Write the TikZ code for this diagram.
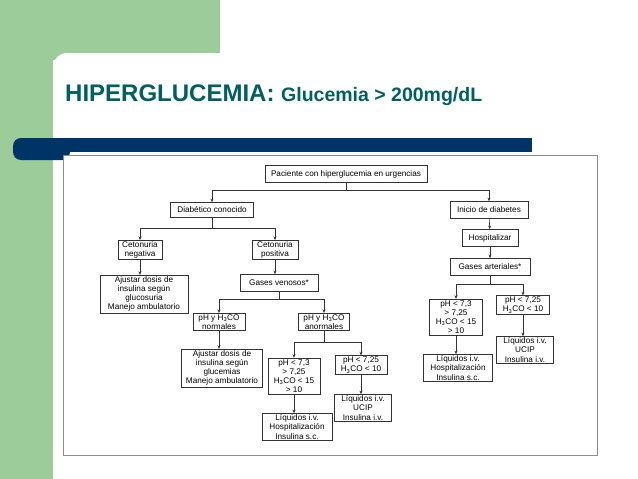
\documentclass[tikz,border=0pt]{standalone}
\usepackage{fontspec}
\setmainfont{Liberation Sans}
\usetikzlibrary{arrows.meta}
\definecolor{grn}{RGB}{155,204,153}
\definecolor{navy}{RGB}{0,51,102}
\definecolor{teal}{RGB}{0,96,96}
\tikzset{
 bx/.style={draw=black!80, line width=0.6pt, align=center, inner sep=1.2pt, font=\fontsize{8.2}{9.2}\selectfont, minimum height=17},
 arr/.style={-{Stealth[length=3.6pt,width=3pt]}, line width=0.6pt, black!80},
 ln/.style={line width=0.6pt, black!80},
}
\newcommand{\hco}{H\textsubscript{3}CO}
\begin{document}
\begin{tikzpicture}[x=1pt,y=-1pt]
\useasboundingbox (0,0) rectangle (638,479);
\fill[white] (0,0) rectangle (638,479);
\fill[grn] (0,0) rectangle (220,60);
\fill[grn] (0,0) rectangle (53,479);
\fill[white, rounded corners=14pt] (53,53) rectangle (660,500);
\fill[navy, rounded corners=8pt] (13,138) rectangle (70,160);
\fill[navy] (30,138) rectangle (532,152);
\node[anchor=base west, text=teal, inner sep=0, font=\bfseries] (title) at (65,101)
 {\fontsize{24}{28}\selectfont HIPERGLUCEMIA: \fontsize{19.5}{22}\selectfont Glucemia > 200mg/dL};
\draw[black!45, line width=0.8pt, fill=white] (63,155) rectangle (597,455);

\node[bx, minimum width=162] (pac) at (346,174) {Paciente con hiperglucemia en urgencias};
\node[bx, minimum width=83, minimum height=15] (diab) at (212,210) {Diabético conocido};
\node[bx, minimum width=44] (cneg) at (140,250) {Cetonuria\\negativa};
\node[bx, minimum width=46] (cpos) at (275,250) {Cetonuria\\positiva};
\node[bx, minimum width=88] (aj1) at (144,294) {Ajustar dosis de\\insulina según\\glucosuria\\Manejo ambulatorio};
\node[bx, minimum width=78] (gv) at (279,283) {Gases venosos*};
\node[bx, minimum width=52] (pn) at (219,322) {pH y \hco\\normales};
\node[bx, minimum width=51] (pa) at (324,322) {pH y \hco\\anormales};
\node[bx, minimum width=81] (aj2) at (222,368) {Ajustar dosis de\\insulina según\\glucemias\\Manejo ambulatorio};
\node[bx, minimum width=52] (m1) at (294,376) {pH < 7,3\\> 7,25\\\hco{} < 15\\> 10};
\node[bx, minimum width=52] (m2) at (361,365) {pH < 7,25\\\hco{} < 10};
\node[bx, minimum width=70] (l1) at (297,427) {Líquidos i.v.\\Hospitalización\\Insulina s.c.};
\node[bx, minimum width=57] (u1) at (363,408) {Líquidos i.v.\\UCIP\\Insulina i.v.};

\node[bx, minimum width=78] (ini) at (489,210) {Inicio de diabetes};
\node[bx, minimum width=56] (hos) at (490,238) {Hospitalizar};
\node[bx, minimum width=80] (ga) at (490,267) {Gases arteriales*};
\node[bx, minimum width=53] (r1) at (456,317) {pH < 7,3\\> 7,25\\\hco{} < 15\\> 10};
\node[bx, minimum width=53] (r2) at (523,305) {pH < 7,25\\\hco{} < 10};
\node[bx, minimum width=69] (l2) at (458,368) {Líquidos i.v.\\Hospitalización\\Insulina s.c.};
\node[bx, minimum width=57] (u2) at (525,350) {Líquidos i.v.\\UCIP\\Insulina i.v.};

\coordinate (j0) at (346,190);
\draw[ln] (pac.south) -- (j0);
\draw[arr] (j0) -| (diab.north);
\draw[arr] (j0) -| (ini.north);
\coordinate (j1) at (212,228);
\draw[ln] (diab.south) -- (j1);
\draw[arr] (j1) -| (cneg.north);
\draw[arr] (j1) -| (cpos.north);
\draw[arr] (cneg.south) -- (cneg.south |- aj1.north);
\draw[arr] (cpos.south) -- (cpos.south |- gv.north);
\coordinate (j2) at (279,299);
\draw[ln] (gv.south) -- (j2);
\draw[arr] (j2) -| (pn.north);
\draw[arr] (j2) -| (pa.north);
\draw[arr] (pn.south) -- (pn.south |- aj2.north);
\coordinate (j3) at (324,342);
\draw[ln] (pa.south) -- (j3);
\draw[arr] (j3) -| (m1.north);
\draw[arr] (j3) -| (m2.north);
\draw[arr] (m1.south) -- (m1.south |- l1.north);
\draw[arr] (m2.south) -- (m2.south |- u1.north);
\draw[arr] (ini) -- (hos);
\draw[arr] (hos) -- (ga);
\coordinate (j4) at (490,284);
\draw[ln] (ga.south) -- (j4);
\draw[arr] (j4) -| (r1.north);
\draw[arr] (j4) -| (r2.north);
\draw[arr] (r1.south) -- (r1.south |- l2.north);
\draw[arr] (r2.south) -- (r2.south |- u2.north);
\end{tikzpicture}
\end{document}
